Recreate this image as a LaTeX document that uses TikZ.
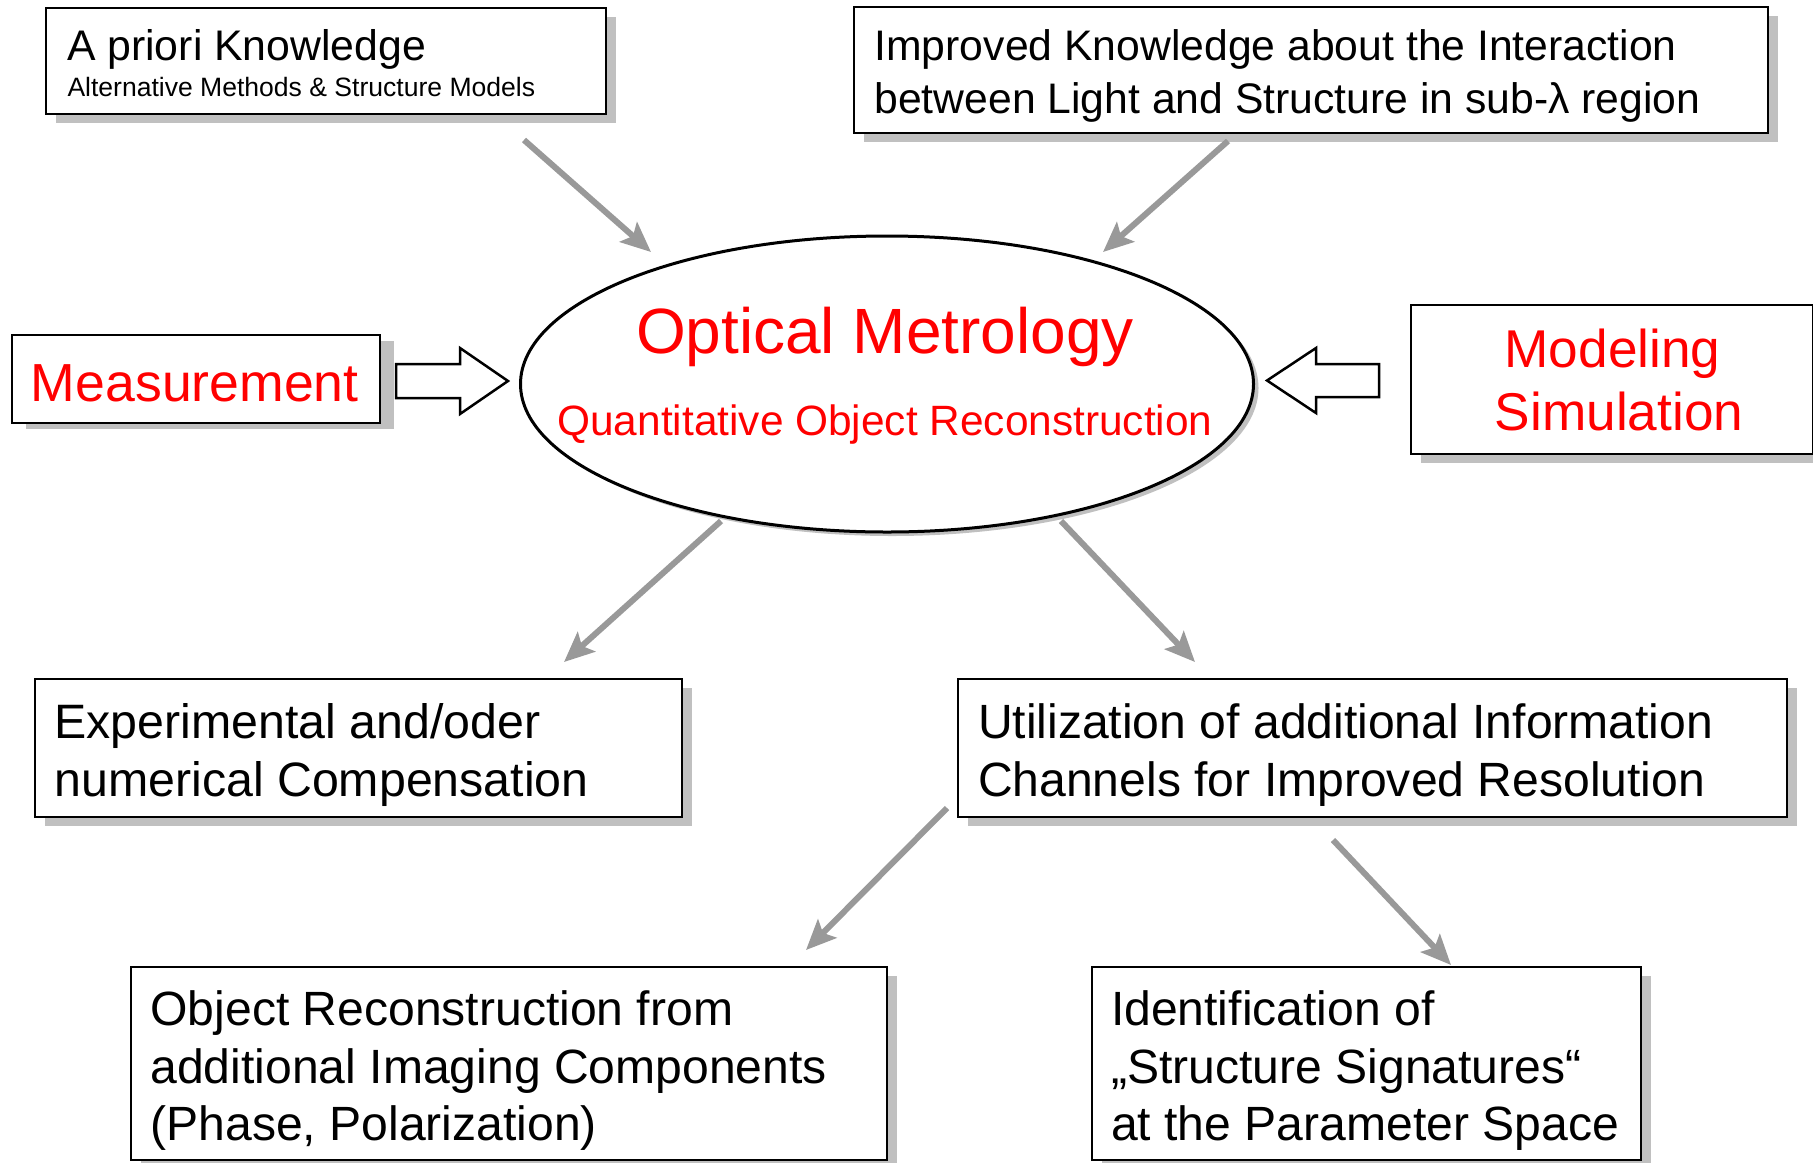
\documentclass[tikz,border=0pt]{standalone}
\usepackage{fontspec}
\setmainfont{Liberation Sans}
\usetikzlibrary{arrows.meta,shapes.geometric,shadows}
\definecolor{shadowgray}{RGB}{192,192,192}
\definecolor{arrowgray}{RGB}{153,153,153}
\definecolor{txtred}{RGB}{255,0,0}
\newcommand{\myfs}[1]{\fontsize{#1}{#1}\selectfont}
\begin{document}
\begin{tikzpicture}[x=0.5pt,y=-0.5pt,
  boxbase/.style={draw, line width=1.25pt, fill=white, inner sep=0pt, outer sep=0pt},
  box/.style={boxbase, general shadow={fill=shadowgray, shadow xshift=5pt, shadow yshift=-4.5pt}},
  mbox/.style={boxbase, general shadow={fill=shadowgray, shadow xshift=7pt, shadow yshift=-3pt}},
  txt/.style={inner sep=0pt, outer sep=0pt, anchor=base west},
  ctxt/.style={inner sep=0pt, outer sep=0pt, anchor=base, text=txtred},
  garrow/.style={draw=arrowgray, line width=3pt, -{Stealth[length=15pt,width=13pt,inset=3pt]}},
  blockarrow/.style={draw, line width=1.25pt, fill=white, line join=miter}
]
\useasboundingbox (0,0) rectangle (1813,1162);
\fill[white] (0,0) rectangle (1813,1162);

% boxes
\node[box, minimum width=280pt, minimum height=53pt] (apriori) at (326,61) {};
\node[box, minimum width=457pt, minimum height=63pt] (improved) at (1311,70) {};
\node[mbox, minimum width=184pt, minimum height=44pt] (measure) at (196,379) {};
\node[box, minimum width=201pt, minimum height=74.5pt] (model) at (1612,379.5) {};
\node[box, minimum width=323.5pt, minimum height=69pt] (exper) at (358.5,748) {};
\node[box, minimum width=414.5pt, minimum height=69pt] (util) at (1372.5,748) {};
\node[box, minimum width=378pt, minimum height=96.5pt] (objrec) at (509,1063.5) {};
\node[box, minimum width=274.5pt, minimum height=96.5pt] (ident) at (1366.5,1063.5) {};

% central ellipse
\node[ellipse, draw, line width=1.5pt, fill=white, inner sep=0pt,
  minimum width=366.5pt, minimum height=148pt,
  general shadow={fill=shadowgray, shadow xshift=2.5pt, shadow yshift=-2pt}] (om) at (887,384) {};

% texts
\node[txt, font=\myfs{21.4}] (apriori1) at (67,60.5) {A priori Knowledge};
\node[txt, font=\myfs{13.27}] (apriori2) at (67.5,96) {Alternative Methods \& Structure Models};
\node[txt, font=\myfs{21.35}] (improved1) at (874.5,60.5) {Improved Knowledge about the Interaction};
\node[txt, font=\myfs{21.35}] (improved2) at (874.5,113.5) {between Light and Structure in sub-λ region};
\node[txt, font=\myfs{26.8}, text=txtred] (measure1) at (31,401) {Measurement};
\node[ctxt, font=\myfs{26.6}] (model1) at (1612.5,367) {Modeling};
\node[ctxt, font=\myfs{26.6}] (model2) at (1619,430) {Simulation};
\node[ctxt, font=\myfs{32}] (om1) at (885,353) {Optical Metrology};
\node[ctxt, font=\myfs{21.2}] (om2) at (885,435) {Quantitative Object Reconstruction};
\node[txt, font=\myfs{24.15}] (exper1) at (54.5,738) {Experimental and/oder};
\node[txt, font=\myfs{24.15}] (exper2) at (54.5,796) {numerical Compensation};
\node[txt, font=\myfs{24.05}] (util1) at (978,738) {Utilization of additional Information};
\node[txt, font=\myfs{24.05}] (util2) at (978,796) {Channels for Improved Resolution};
\node[txt, font=\myfs{24.05}] (objrec1) at (150.5,1025) {Object Reconstruction from};
\node[txt, font=\myfs{24.05}] (objrec2) at (150.5,1083) {additional Imaging Components};
\node[txt, font=\myfs{24.05}] (objrec3) at (150.5,1140) {(Phase, Polarization)};
\node[txt, font=\myfs{24.05}] (ident1) at (1111,1025) {Identification of};
\node[txt, font=\myfs{24.05}] (ident2) at (1111,1083) {„Structure Signatures“};
\node[txt, font=\myfs{24.05}] (ident3) at (1111,1140) {at the Parameter Space};

% block arrows
\draw[blockarrow] (396,364) -- (460,364) -- (460,348) -- (508,381) -- (460,414) -- (460,398) -- (396,398) -- cycle;
\draw[blockarrow] (1379,364) -- (1316,364) -- (1316,348) -- (1267,380.5) -- (1316,413) -- (1316,397) -- (1379,397) -- cycle;

% gray arrows
\coordinate (a1s) at (524,140);  \coordinate (a1e) at (651,252);
\coordinate (a2s) at (1228,141); \coordinate (a2e) at (1103,252);
\coordinate (a3s) at (721,521);  \coordinate (a3e) at (564,662);
\coordinate (a4s) at (1061,521); \coordinate (a4e) at (1195,662);
\coordinate (a5s) at (947,808);  \coordinate (a5e) at (806,950);
\coordinate (a6s) at (1333,840); \coordinate (a6e) at (1451,965);
\draw[garrow] (a1s) -- (a1e);
\draw[garrow] (a2s) -- (a2e);
\draw[garrow] (a3s) -- (a3e);
\draw[garrow] (a4s) -- (a4e);
\draw[garrow] (a5s) -- (a5e);
\draw[garrow] (a6s) -- (a6e);
\end{tikzpicture}
\end{document}
